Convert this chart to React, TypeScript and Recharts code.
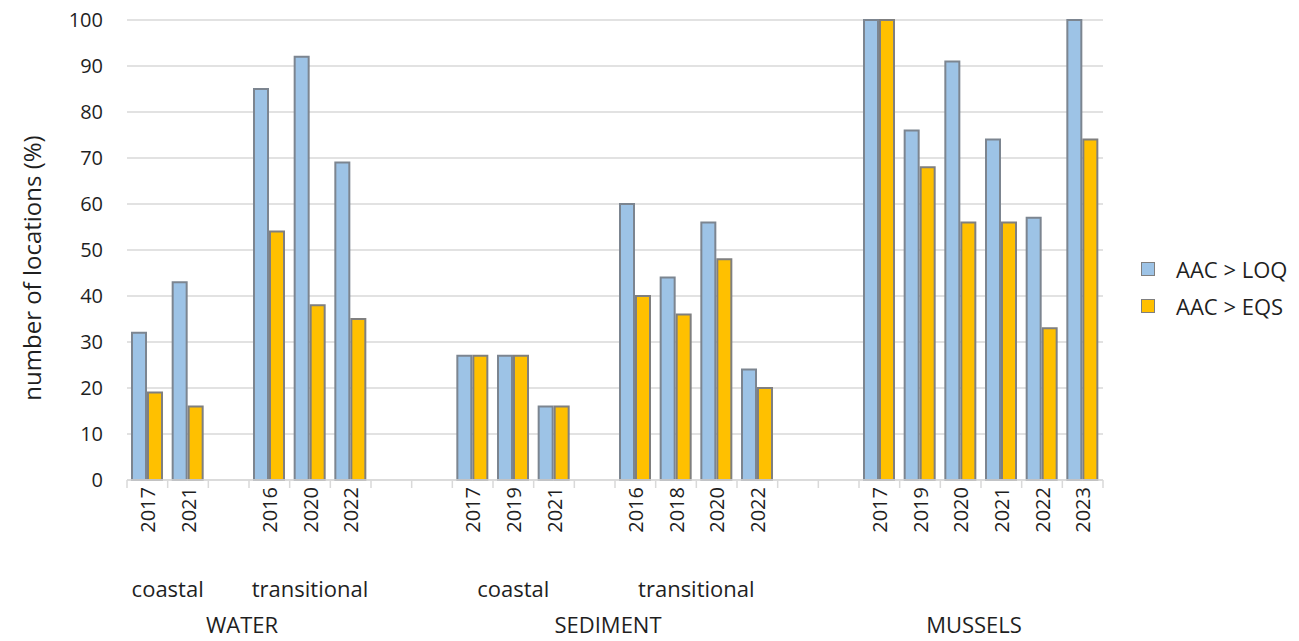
import React from 'react';
import { BarChart, Bar, XAxis, YAxis, CartesianGrid, Label } from 'recharts';

// one entry per category slot; empty strings are the gaps between groups
const slotLabels = [
  '2017', '2021', '', '2016', '2020', '2022', '', '',
  '2017', '2019', '2021', '', '2016', '2018', '2020', '2022', '', '',
  '2017', '2019', '2020', '2021', '2022', '2023',
];
const aboveLoq = [32, 43, null, 85, 92, 69, null, null, 27, 27, 16, null, 60, 44, 56, 24, null, null, 100, 76, 91, 74, 57, 100];
const aboveEqs = [19, 16, null, 54, 38, 35, null, null, 27, 27, 16, null, 40, 36, 48, 20, null, null, 100, 68, 56, 56, 33, 74];
const yTicks = [0, 10, 20, 30, 40, 50, 60, 70, 80, 90, 100];

// second and third category levels (slot ranges)
const subGroups = [
  { label: 'coastal', from: 0, to: 1 },
  { label: 'transitional', from: 3, to: 5 },
  { label: 'coastal', from: 8, to: 10 },
  { label: 'transitional', from: 12, to: 15 },
];
const mainGroups = [
  { label: 'WATER', from: 0, to: 5 },
  { label: 'SEDIMENT', from: 8, to: 15 },
  { label: 'MUSSELS', from: 18, to: 23 },
];

const data = slotLabels.map((label, i) => ({
  slot: i,
  label,
  loq: aboveLoq[i],
  eqs: aboveEqs[i],
}));

const W = 1299;
const H = 641;
const MARGIN = { top: 20, right: 196, bottom: 0, left: 0 };
const Y_AXIS_W = 127;
const X_AXIS_H = 161;
const PLOT_W = W - MARGIN.left - MARGIN.right - Y_AXIS_W;
const BAND = PLOT_W / slotLabels.length;

const FONT = '"Open Sans", sans-serif';
const TEXT = '#1f1f1f';
const GRID = '#d9d9d9';

const CategoryTick = (props: any) => {
  const { x, y, payload } = props;
  const i = payload.index ?? payload.value;
  const label = slotLabels[i];
  const sub = subGroups.find((g) => g.from === i);
  const main = mainGroups.find((g) => g.from === i);
  return (
    <g>
      <line x1={x - BAND / 2} x2={x - BAND / 2} y1={y} y2={y + 8} stroke={GRID} strokeWidth={1.5} />
      {i === slotLabels.length - 1 && (
        <line x1={x + BAND / 2} x2={x + BAND / 2} y1={y} y2={y + 8} stroke={GRID} strokeWidth={1.5} />
      )}
      {label && (
        <text
          x={x}
          y={y + 7}
          transform={`rotate(-90 ${x} ${y + 7})`}
          textAnchor="end"
          dominantBaseline="central"
          fontFamily={FONT}
          fontSize={20}
          fill={TEXT}
        >
          {label}
        </text>
      )}
      {sub && (
        <text
          x={x + ((sub.to - sub.from) / 2) * BAND}
          y={y + 117}
          textAnchor="middle"
          fontFamily={FONT}
          fontSize={22}
          fill={TEXT}
        >
          {sub.label}
        </text>
      )}
      {main && (
        <text
          x={x + ((main.to - main.from) / 2) * BAND - 7}
          y={y + 153}
          textAnchor="middle"
          fontFamily={FONT}
          fontSize={22}
          fill={TEXT}
        >
          {main.label}
        </text>
      )}
    </g>
  );
};

const legendItems = [
  { label: 'AAC > LOQ', color: '#9dc3e6' },
  { label: 'AAC > EQS', color: '#ffc000' },
];

export default function App() {
  return (
    <div style={{ position: 'absolute', left: 0, top: 0, width: W, height: H, background: '#fff' }}>
      <BarChart width={W} height={H} data={data} margin={MARGIN} barSize={14} barGap={2}>
        <CartesianGrid vertical={false} stroke={GRID} strokeWidth={1.5} />
        <XAxis
          dataKey="slot"
          type="category"
          height={X_AXIS_H}
          interval={0}
          tickLine={false}
          tickSize={0}
          tickMargin={0}
          axisLine={{ stroke: GRID, strokeWidth: 1.5 }}
          tick={<CategoryTick />}
        />
        <YAxis
          width={Y_AXIS_W}
          domain={[0, 100]}
          ticks={yTicks}
          interval={0}
          axisLine={false}
          tickLine={false}
          tickSize={0}
          tickMargin={24}
          tick={{ fontFamily: FONT, fontSize: 20, fill: TEXT }}
        >
          <Label
            content={({ viewBox }: any) => {
              const cx = 31;
              const cy = viewBox.y + viewBox.height / 2 + 18;
              return (
                <text
                  x={cx}
                  y={cy}
                  transform={`rotate(-90 ${cx} ${cy})`}
                  textAnchor="middle"
                  dominantBaseline="central"
                  fontFamily={FONT}
                  fontSize={24}
                  fill={TEXT}
                >
                  number of locations (%)
                </text>
              );
            }}
          />
        </YAxis>
        <Bar dataKey="loq" name="AAC > LOQ" fill="#9dc3e6" stroke="#7c8590" strokeWidth={2} isAnimationActive={false} />
        <Bar dataKey="eqs" name="AAC > EQS" fill="#ffc000" stroke="#7f7f7f" strokeWidth={2} isAnimationActive={false} />
      </BarChart>

      {/* Legend */}
      <div style={{ position: 'absolute', left: 1141, top: 250, fontFamily: FONT, fontSize: 22, color: TEXT }}>
        {legendItems.map((item) => (
          <div key={item.label} style={{ display: 'flex', alignItems: 'center', height: 37 }}>
            <div
              style={{
                width: 12,
                height: 12,
                background: item.color,
                border: '1.5px solid #7f7f7f',
                marginRight: 21,
              }}
            />
            <span style={{ whiteSpace: 'nowrap' }}>{item.label}</span>
          </div>
        ))}
      </div>
    </div>
  );
}
